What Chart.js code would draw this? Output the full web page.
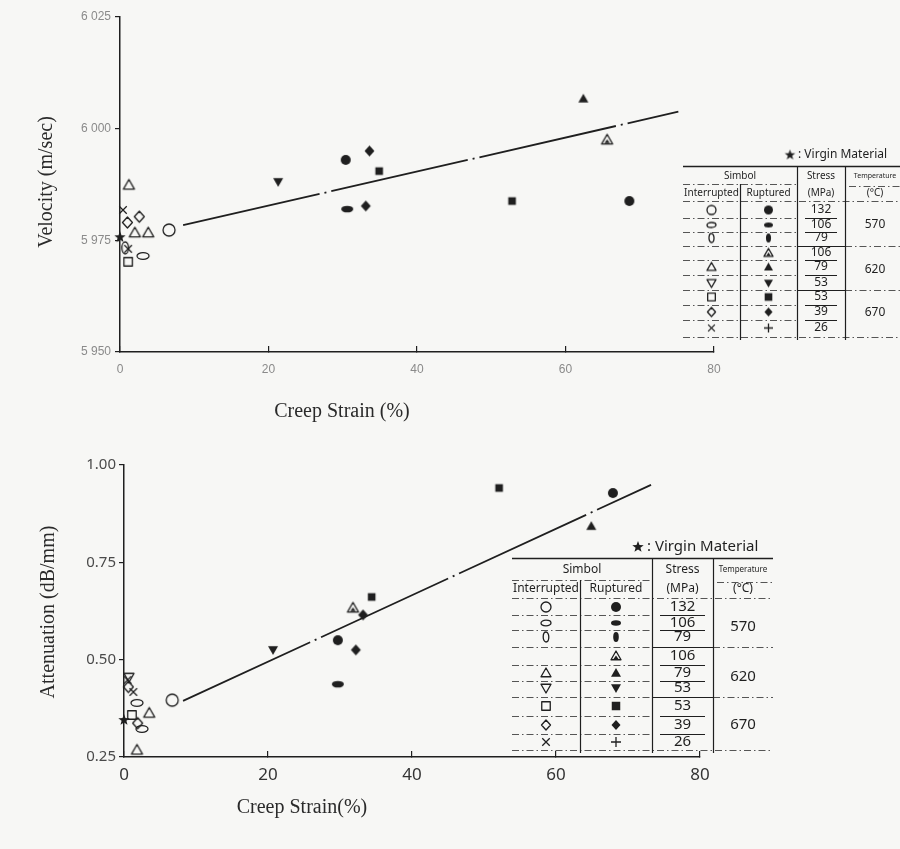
<!DOCTYPE html>
<html>
<head>
<meta charset="utf-8">
<script src="https://cdn.jsdelivr.net/npm/chart.js@4.4.1/dist/chart.umd.min.js"></script>
<style>
body { margin: 0; background: #f7f7f5; }
#page { position: relative; width: 900px; height: 849px; overflow: hidden; }
canvas { position: absolute; left: 0; }
.ttl { position: absolute; font-family: 'Liberation Serif', serif; font-size: 20px; color: #2a2a2a;
       white-space: nowrap; transform: translate(-50%, -50%); }
.rot { transform: translate(-50%, -50%) rotate(-90deg); }
</style>
</head>
<body>
<div id="page">
  <canvas id="velChart" width="900" height="440" style="top:0"></canvas>
  <canvas id="attChart" width="900" height="409" style="top:440px"></canvas>
  <div class="ttl rot" style="left:45px;top:182px">Velocity (m/sec)</div>
  <div class="ttl" style="left:342px;top:410px">Creep Strain (%)</div>
  <div class="ttl rot" style="left:47px;top:612px">Attenuation (dB/mm)</div>
  <div class="ttl" style="left:302px;top:806px">Creep Strain(%)</div>
</div>
<script>
const INK = '#1f1f1f';

// creep strain axis, same for both plots
const strainTicks = [0, 20, 40, 60, 80];

// upper plot - velocity (m/sec) vs creep strain (%)
const velTicks = [5.950, 5.975, 6.000, 6.025];
const velTickLabels = ['5 950', '5 975', '6 000', '6 025'];

const velVirgin = [[0, 5.9757]];
const velInt132_570 = [[6.6, 5.9773]];
const velInt106_570 = [[3.1, 5.9715]];
const velInt79_570 = [[0.7, 5.9733]];
const velInt79_620 = [[1.2, 5.9874], [2.0, 5.9767], [3.8, 5.9767]];
const velInt53_670 = [[1.1, 5.9702]];
const velInt39_670 = [[2.6, 5.9803], [1.0, 5.9790]];
const velInt26_670 = [[0.4, 5.9818], [1.1, 5.9731]];
const velRup132_570 = [[30.4, 5.9930], [68.6, 5.9838]];
const velRup106_570 = [[30.6, 5.9820]];
const velRup106_620 = [[65.6, 5.9975]];
const velRup79_620 = [[62.4, 6.0067]];
const velRup53_620 = [[21.3, 5.9881]];
const velRup53_670 = [[34.9, 5.9905], [52.8, 5.9838]];
const velRup39_670 = [[33.6, 5.9950], [33.1, 5.9827]];
const velFit = [[8.5, 5.9784], [75.2, 6.0038]];

// lower plot - attenuation (dB/mm) vs creep strain (%)
const attTicks = [0.25, 0.50, 0.75, 1.00];
const attTickLabels = ['0.25', '0.50', '0.75', '1.00'];

const attVirgin = [[0, 0.345]];
const attInt132_570 = [[6.7, 0.396]];
const attInt106_570 = [[1.8, 0.389], [2.5, 0.322]];
const attInt79_620 = [[3.5, 0.363], [1.8, 0.268]];
const attInt53_620 = [[0.7, 0.455]];
const attInt53_670 = [[1.1, 0.358]];
const attInt39_670 = [[1.9, 0.337], [0.6, 0.430]];
const attInt26_670 = [[0.5, 0.448], [1.3, 0.417]];
const attRup132_570 = [[29.7, 0.550], [67.9, 0.928]];
const attRup106_570 = [[29.7, 0.437]];
const attRup106_620 = [[31.8, 0.633]];
const attRup79_620 = [[64.9, 0.843]];
const attRup53_620 = [[20.7, 0.525]];
const attRup53_670 = [[34.4, 0.661], [52.1, 0.941]];
const attRup39_670 = [[32.2, 0.525], [33.2, 0.615]];
const attFit = [[8.2, 0.394], [73.2, 0.949]];

// symbol table (same in both plots)
const virginNote = ': Virgin Material';
const tableStress = ['132', '106', '79', '106', '79', '53', '53', '39', '26'];
const tableTemps = ['570', '620', '670'];
const tableInterrupted = ['circle', 'hellipse', 'vellipse', null, 'triangle', 'invtriangle', 'square', 'diamond', 'cross'];
const tableRuptured = ['circle', 'hellipse', 'vellipse', 'tridot', 'triangle', 'invtriangle', 'square', 'diamond', 'plus'];

// little canvases used as point styles
const markerCache = {};
function marker(shape, filled, s) {
  const key = shape + filled + s;
  if (markerCache[key]) return markerCache[key];
  const n = Math.ceil(s + 6);
  const c = document.createElement('canvas');
  c.width = n; c.height = n;
  const g = c.getContext('2d');
  g.translate(n / 2, n / 2);
  g.strokeStyle = INK; g.fillStyle = INK;
  g.lineWidth = 1.3; g.lineJoin = 'round';
  const r = s / 2;
  g.beginPath();
  if (shape === 'circle') g.arc(0, 0, r, 0, Math.PI * 2);
  else if (shape === 'hellipse') g.ellipse(0, 0, r, r * 0.56, 0, 0, Math.PI * 2);
  else if (shape === 'vellipse') g.ellipse(0, 0, r * 0.56, r, 0, 0, Math.PI * 2);
  else if (shape === 'triangle' || shape === 'tridot') { g.moveTo(0, -r); g.lineTo(r, r * 0.75); g.lineTo(-r, r * 0.75); g.closePath(); }
  else if (shape === 'invtriangle') { g.moveTo(0, r); g.lineTo(r, -r * 0.75); g.lineTo(-r, -r * 0.75); g.closePath(); }
  else if (shape === 'square') g.rect(-r * 0.85, -r * 0.85, r * 1.7, r * 1.7);
  else if (shape === 'diamond') { g.moveTo(0, -r); g.lineTo(r * 0.9, 0); g.lineTo(0, r); g.lineTo(-r * 0.9, 0); g.closePath(); }
  else if (shape === 'cross') { const a = r * 0.75; g.moveTo(-a, -a); g.lineTo(a, a); g.moveTo(a, -a); g.lineTo(-a, a); }
  else if (shape === 'plus') { g.moveTo(-r, 0); g.lineTo(r, 0); g.moveTo(0, -r); g.lineTo(0, r); }
  else if (shape === 'star') {
    for (let i = 0; i < 10; i++) {
      const rr = i % 2 ? r * 0.42 : r;
      const a = -Math.PI / 2 + i * Math.PI / 5;
      g.lineTo(Math.cos(a) * rr, Math.sin(a) * rr);
    }
    g.closePath();
  }
  if (shape === 'cross' || shape === 'plus' || shape === 'tridot' || !filled) g.stroke();
  else g.fill();
  if (shape === 'tridot') {
    g.beginPath(); g.moveTo(0, -r * 0.1); g.lineTo(r * 0.5, r * 0.6); g.lineTo(-r * 0.5, r * 0.6); g.closePath(); g.fill();
  }
  markerCache[key] = c;
  return c;
}

function pts(arr) { return arr.map(p => ({ x: p[0], y: p[1] })); }
function series(label, arr, shape, filled, s) {
  return { label: label, data: pts(arr), pointStyle: marker(shape, filled, s || 10),
           pointRadius: 5, pointHoverRadius: 5, showLine: false, clip: false };
}
function fitLine(arr) {
  return { label: 'fit', data: pts(arr), showLine: true, pointRadius: 0, borderColor: INK,
           borderWidth: 1.8, borderDash: [140, 5, 2, 5], clip: false };
}

// where the symbol table sits on each canvas
const tableLayouts = {
  velChart: { cols: [683, 740, 797, 845, 905], top: 166, sep1: 184, head1: 176, head2: 193, sep2: 201,
              rows: [210, 225, 238, 253, 267, 283, 297, 312, 328], bottom: 337, temps: [225, 270, 313],
              virginX: 790, virginY: 155, fs: 12, hs: 10, ts: 7, sym: 9 },
  attChart: { cols: [512, 580, 652, 713, 773], top: 118, sep1: 140, head1: 130, head2: 149, sep2: 158,
              rows: [167, 183, 197, 216, 233, 248, 266, 285, 302], bottom: 310, temps: [187, 237, 285],
              virginX: 638, virginY: 107, fs: 15, hs: 12, ts: 8, sym: 10 }
};

function hline(ctx, x1, x2, y, dashed, w) {
  ctx.save();
  ctx.lineWidth = w || 1;
  ctx.strokeStyle = dashed ? '#555' : INK;
  ctx.setLineDash(dashed ? [7, 3, 1.5, 3] : []);
  ctx.beginPath(); ctx.moveTo(x1, y + 0.5); ctx.lineTo(x2, y + 0.5); ctx.stroke();
  ctx.restore();
}
function vline(ctx, x, y1, y2) {
  ctx.save();
  ctx.lineWidth = 1.2; ctx.strokeStyle = INK;
  ctx.beginPath(); ctx.moveTo(x + 0.5, y1); ctx.lineTo(x + 0.5, y2); ctx.stroke();
  ctx.restore();
}

const tablePlugin = {
  id: 'symbolTable',
  afterDraw(chart) {
    const L = tableLayouts[chart.canvas.id];
    const ctx = chart.ctx;
    const [x0, c1, c2, c3, x4] = L.cols;
    const font = px => px + 'px "Noto Sans", "DejaVu Sans", sans-serif';
    ctx.save();
    ctx.fillStyle = INK;
    ctx.textBaseline = 'middle';

    const star = marker('star', true, L.sym + 2);
    ctx.drawImage(star, L.virginX - star.width / 2, L.virginY - star.height / 2);
    ctx.textAlign = 'left';
    ctx.font = font(L.fs);
    ctx.fillText(virginNote, L.virginX + L.sym - 1, L.virginY);

    hline(ctx, x0, x4, L.top, false, 1.6);
    hline(ctx, x0, c2, L.sep1, true);
    hline(ctx, c3 + 4, x4, L.sep1 + 2, true);
    hline(ctx, x0, x4, L.sep2, true);
    for (let i = 0; i < L.rows.length - 1; i++) {
      const y = Math.round((L.rows[i] + L.rows[i + 1]) / 2);
      if (i === 2 || i === 5) {
        hline(ctx, x0, c3, y, true);
        hline(ctx, c2, c3, y, false);
        hline(ctx, c3, x4, y, true);
      } else {
        hline(ctx, x0, c2, y, true);
        hline(ctx, c2 + 8, c3 - 8, y, false);
      }
    }
    hline(ctx, x0, x4, L.bottom, true);
    vline(ctx, c1, L.sep1, L.bottom + 3);
    vline(ctx, c2, L.top, L.bottom + 3);
    vline(ctx, c3, L.top, L.bottom + 3);

    ctx.textAlign = 'center';
    ctx.font = font(L.hs);
    ctx.fillText('Simbol', (x0 + c2) / 2, L.head1);
    ctx.fillText('Stress', (c2 + c3) / 2, L.head1);
    ctx.fillText('Interrupted', (x0 + c1) / 2, L.head2);
    ctx.fillText('Ruptured', (c1 + c2) / 2, L.head2);
    ctx.fillText('(MPa)', (c2 + c3) / 2, L.head2);
    ctx.fillText('(°C)', (c3 + x4) / 2, L.head2);
    ctx.font = font(L.ts);
    ctx.fillText('Temperature', (c3 + x4) / 2, L.head1);

    ctx.font = font(L.fs);
    L.rows.forEach((y, i) => {
      if (tableInterrupted[i]) {
        const m = marker(tableInterrupted[i], false, L.sym);
        ctx.drawImage(m, (x0 + c1) / 2 - m.width / 2, y - m.height / 2);
      }
      const m2 = marker(tableRuptured[i], true, L.sym);
      ctx.drawImage(m2, (c1 + c2) / 2 - m2.width / 2, y - m2.height / 2);
      ctx.fillText(tableStress[i], (c2 + c3) / 2, y);
    });
    L.temps.forEach((y, i) => ctx.fillText(tableTemps[i], (c3 + x4) / 2, y));
    ctx.restore();
  }
};

function axisX(height, pad, tickFont, tickColor) {
  return {
    type: 'linear', min: 0, max: 80,
    afterFit: s => { s.height = height; },
    afterBuildTicks: s => { s.ticks = strainTicks.map(v => ({ value: v })); },
    grid: { drawOnChartArea: false, tickLength: -6, color: INK, lineWidth: 1.2 },
    border: { color: INK, width: 1.5 },
    ticks: { padding: pad, color: tickColor, font: tickFont, maxRotation: 0 }
  };
}

new Chart(document.getElementById('velChart'), {
  type: 'scatter',
  data: {
    datasets: [
      fitLine(velFit),
      series('virgin', velVirgin, 'star', true, 12),
      series('int 132/570', velInt132_570, 'circle', false, 12),
      series('int 106/570', velInt106_570, 'hellipse', false, 12),
      series('int 79/570', velInt79_570, 'vellipse', false, 12),
      series('int 79/620', velInt79_620, 'triangle', false, 11),
      series('int 53/670', velInt53_670, 'square', false, 10),
      series('int 39/670', velInt39_670, 'diamond', false, 11),
      series('int 26/670', velInt26_670, 'cross', false, 10),
      series('rup 132/570', velRup132_570, 'circle', true, 10),
      series('rup 106/570', velRup106_570, 'hellipse', true, 12),
      series('rup 106/620', velRup106_620, 'tridot', true, 11),
      series('rup 79/620', velRup79_620, 'triangle', true, 10),
      series('rup 53/620', velRup53_620, 'invtriangle', true, 10),
      series('rup 53/670', velRup53_670, 'square', true, 9),
      series('rup 39/670', velRup39_670, 'diamond', true, 11)
    ]
  },
  options: {
    responsive: false, animation: false, devicePixelRatio: 1,
    layout: { padding: { top: 17, right: 186, left: 0, bottom: 0 } },
    plugins: { legend: { display: false }, tooltip: { enabled: false } },
    scales: {
      x: axisX(88, 16, { family: 'Liberation Sans', size: 12 }, '#8a8a8a'),
      y: {
        min: 5.95, max: 6.025,
        afterFit: s => { s.width = 120; },
        afterBuildTicks: s => { s.ticks = velTicks.map(v => ({ value: v })); },
        grid: { drawOnChartArea: false, tickLength: 5, color: INK, lineWidth: 1.2 },
        border: { color: INK, width: 1.5 },
        ticks: { padding: 4, color: '#8a8a8a', font: { family: 'Liberation Sans', size: 12 },
                 callback: (v, i) => velTickLabels[i] }
      }
    }
  },
  plugins: [tablePlugin]
});

new Chart(document.getElementById('attChart'), {
  type: 'scatter',
  data: {
    datasets: [
      fitLine(attFit),
      series('virgin', attVirgin, 'star', true, 12),
      series('int 132/570', attInt132_570, 'circle', false, 12),
      series('int 106/570', attInt106_570, 'hellipse', false, 12),
      series('int 79/620', attInt79_620, 'triangle', false, 11),
      series('int 53/620', attInt53_620, 'invtriangle', false, 10),
      series('int 53/670', attInt53_670, 'square', false, 10),
      series('int 39/670', attInt39_670, 'diamond', false, 11),
      series('int 26/670', attInt26_670, 'cross', false, 10),
      series('rup 132/570', attRup132_570, 'circle', true, 10),
      series('rup 106/570', attRup106_570, 'hellipse', true, 12),
      series('rup 106/620', attRup106_620, 'tridot', true, 11),
      series('rup 79/620', attRup79_620, 'triangle', true, 10),
      series('rup 53/620', attRup53_620, 'invtriangle', true, 10),
      series('rup 53/670', attRup53_670, 'square', true, 9),
      series('rup 39/670', attRup39_670, 'diamond', true, 11)
    ]
  },
  options: {
    responsive: false, animation: false, devicePixelRatio: 1,
    layout: { padding: { top: 25, right: 200, left: 0, bottom: 0 } },
    plugins: { legend: { display: false }, tooltip: { enabled: false } },
    scales: {
      x: axisX(92, 14, { family: 'Noto Sans', size: 17 }, '#333'),
      y: {
        min: 0.25, max: 1.0,
        afterFit: s => { s.width = 124; },
        afterBuildTicks: s => { s.ticks = attTicks.map(v => ({ value: v })); },
        grid: { drawOnChartArea: false, tickLength: 5, color: INK, lineWidth: 1.2 },
        border: { color: INK, width: 1.5 },
        ticks: { padding: 3, color: '#4a4a4a', font: { family: 'Noto Sans', size: 15 },
                 callback: (v, i) => attTickLabels[i] }
      }
    }
  },
  plugins: [tablePlugin]
});
</script>
</body>
</html>
